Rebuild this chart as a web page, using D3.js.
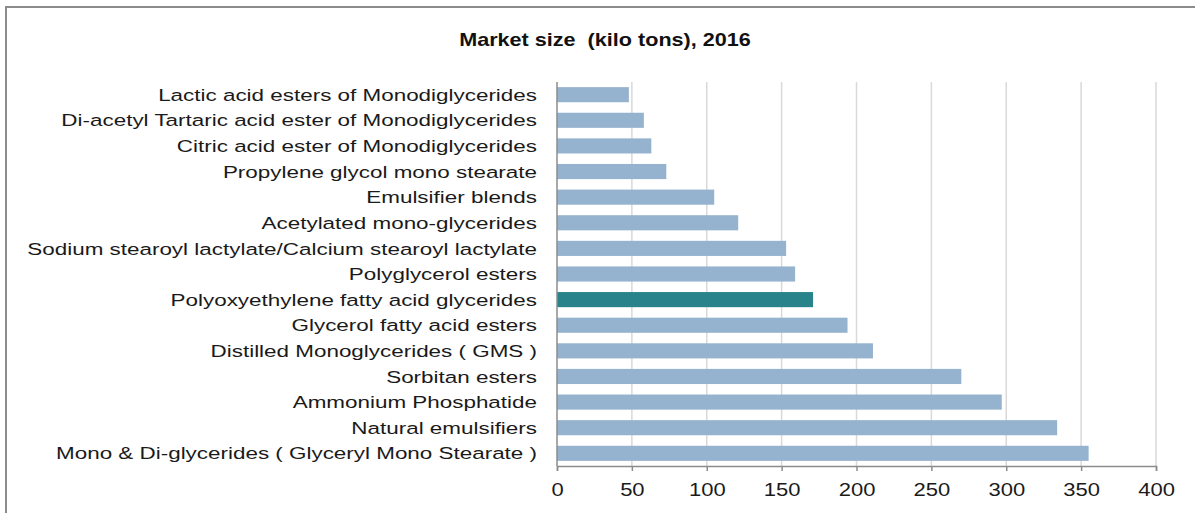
<!DOCTYPE html>
<html>
<head>
<meta charset="utf-8">
<script src="https://cdn.jsdelivr.net/npm/d3@7"></script>
<style>
  html, body { margin: 0; padding: 0; background: #fff; }
  svg { display: block; font-family: "Liberation Sans", Arial, sans-serif; }
</style>
</head>
<body>
<div id="chart"></div>
<script>
'use strict';

// Data, read top to bottom
var categories = [
  'Lactic acid esters of Monodiglycerides',
  'Di-acetyl Tartaric acid ester of Monodiglycerides',
  'Citric acid ester of Monodiglycerides',
  'Propylene glycol mono stearate',
  'Emulsifier blends',
  'Acetylated mono-glycerides',
  'Sodium stearoyl lactylate/Calcium stearoyl lactylate',
  'Polyglycerol esters',
  'Polyoxyethylene fatty acid glycerides',
  'Glycerol fatty acid esters',
  'Distilled Monoglycerides ( GMS )',
  'Sorbitan esters',
  'Ammonium Phosphatide',
  'Natural emulsifiers',
  'Mono & Di-glycerides ( Glyceryl Mono Stearate )'
];
var values = [48, 58, 63, 73, 105, 121, 153, 159, 171, 194, 211, 270, 297, 334, 355];
var highlighted = ['Polyoxyethylene fatty acid glycerides'];
var xTicks = [0, 50, 100, 150, 200, 250, 300, 350, 400];
var title = 'Market size  (kilo tons), 2016';

var W = 1195, H = 513;
var plot = { left: 557, right: 1156, top: 82, bottom: 466 };
// the source picture is stretched sideways, so text is widened to match
var labelStretch = 1.32, titleStretch = 1.2, tickStretch = 1.19;

var svg = d3.select('#chart').append('svg')
  .attr('width', W)
  .attr('height', H);

// outer frame (runs off the right and bottom edges)
svg.append('rect')
  .attr('x', 6).attr('y', 7)
  .attr('width', W + 20).attr('height', H + 20)
  .attr('fill', '#fff')
  .attr('stroke', '#8c8c8c')
  .attr('stroke-width', 2);

// title
svg.append('text')
  .attr('transform', 'translate(605,46) scale(' + titleStretch + ',1)')
  .attr('text-anchor', 'middle')
  .attr('font-size', 18)
  .attr('font-weight', 'bold')
  .attr('fill', '#111')
  .style('white-space', 'pre')
  .text(title);

var x = d3.scaleLinear().domain([0, 400]).range([plot.left, plot.right]);
var y = d3.scaleBand().domain(categories)
  .range([plot.top, plot.bottom])
  .paddingInner(0.41)
  .paddingOuter(0.2);

// gridlines
svg.append('g')
  .selectAll('line')
  .data(xTicks.filter(function (d) { return d > 0; }))
  .join('line')
  .attr('x1', function (d) { return x(d); })
  .attr('x2', function (d) { return x(d); })
  .attr('y1', plot.top)
  .attr('y2', plot.bottom)
  .attr('stroke', '#d9d9d9')
  .attr('stroke-width', 1.5);

// bars
svg.append('g')
  .selectAll('rect')
  .data(categories)
  .join('rect')
  .attr('x', x(0))
  .attr('y', function (d) { return y(d); })
  .attr('width', function (d, i) { return x(values[i]) - x(0); })
  .attr('height', y.bandwidth())
  .attr('fill', function (d) { return highlighted.indexOf(d) >= 0 ? '#28848a' : '#95b3cf'; });

// category labels
svg.append('g')
  .selectAll('text')
  .data(categories)
  .join('text')
  .attr('transform', function (d) {
    return 'translate(' + (plot.left - 20) + ',' + (y(d) + y.bandwidth() / 2) + ') scale(' + labelStretch + ',1)';
  })
  .attr('dy', '0.36em')
  .attr('text-anchor', 'end')
  .attr('font-size', 17)
  .attr('fill', '#1a1a1a')
  .text(function (d) { return d; });

// y axis line
svg.append('line')
  .attr('x1', plot.left).attr('x2', plot.left)
  .attr('y1', plot.top).attr('y2', plot.bottom)
  .attr('stroke', '#8c8c8c')
  .attr('stroke-width', 1.5);

// x axis
var xAxis = svg.append('g')
  .attr('transform', 'translate(0,' + plot.bottom + ')')
  .call(d3.axisBottom(x).tickValues(xTicks).tickSize(5).tickPadding(12).tickFormat(d3.format('d')));
xAxis.select('.domain').attr('stroke', '#8c8c8c').attr('stroke-width', 1.5);
xAxis.selectAll('.tick line').attr('stroke', '#8c8c8c').attr('stroke-width', 1.5);
xAxis.selectAll('.tick text')
  .attr('font-size', 18.5)
  .attr('font-family', '"Liberation Sans", Arial, sans-serif')
  .attr('fill', '#1a1a1a')
  .attr('transform', 'scale(' + tickStretch + ',1)');
</script>
</body>
</html>
